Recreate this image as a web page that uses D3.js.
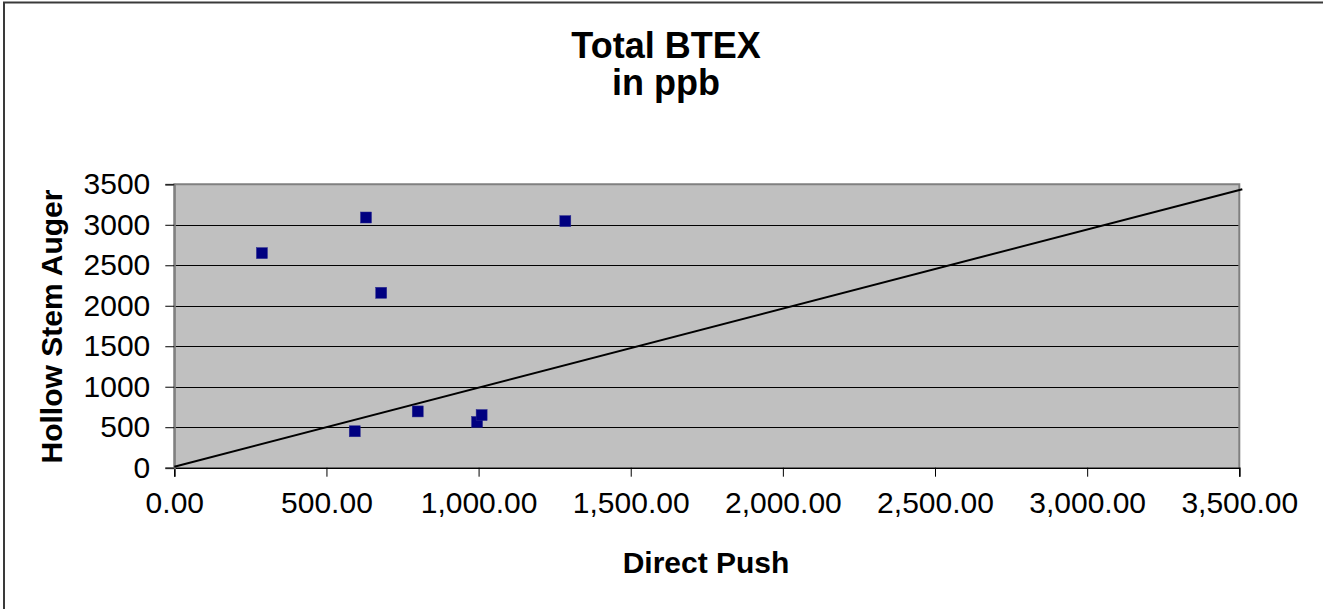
<!DOCTYPE html>
<html>
<head>
<meta charset="utf-8">
<script src="https://cdn.jsdelivr.net/npm/d3@7"></script>
<style>
  body { margin: 0; background: #fff; }
  svg { display: block; font-family: 'Liberation Sans', Arial, sans-serif; }
</style>
</head>
<body>
<div class="chart"></div>
<script>
var directPush = [288, 630, 1285, 680, 593, 800, 995, 1010];
var hollowStem = [2650, 3090, 3045, 2160, 450, 695, 565, 650];
var refLineX = [0, 3510];
var refLineY = [12, 3440];
var xTicks = [0, 500, 1000, 1500, 2000, 2500, 3000, 3500];
var yTicks = [0, 500, 1000, 1500, 2000, 2500, 3000, 3500];
var titleLines = ['Total BTEX', 'in ppb'];

var W = 1323;
var H = 609;
var plot = { left: 174.3, right: 1239.3, top: 184.3, bottom: 467.7 };

var svg = d3.select('.chart').append('svg').attr('width', W).attr('height', H);

// outer frame (only left / top edges visible in the picture)
svg.append('rect')
  .attr('x', 4).attr('y', 2.5)
  .attr('width', W + 20).attr('height', H + 20)
  .attr('fill', '#fff')
  .attr('stroke', '#3a3a3a')
  .attr('stroke-width', 2);

var xScale = d3.scaleLinear().domain([0, 3500]).range([plot.left, plot.right]);
var yScale = d3.scaleLinear().domain([0, 3500]).range([plot.bottom, plot.top]);

/* ===== PLOT AREA ===== */
svg.append('rect')
  .attr('x', plot.left).attr('y', plot.top)
  .attr('width', plot.right - plot.left)
  .attr('height', plot.bottom - plot.top)
  .attr('fill', '#c0c0c0');

svg.append('g')
  .selectAll('line')
  .data(yTicks.filter(function (d) { return d > 0 && d < 3500; }))
  .enter()
  .append('line')
  .attr('x1', plot.left).attr('x2', plot.right)
  .attr('y1', function (d) { return Math.round(yScale(d)) + 0.5; })
  .attr('y2', function (d) { return Math.round(yScale(d)) + 0.5; })
  .attr('stroke', '#000')
  .attr('stroke-width', 1);

// gray border of the plot area
svg.append('path')
  .attr('d', 'M' + plot.left + ',' + plot.bottom + 'V' + plot.top + 'H' + plot.right + 'V' + plot.bottom)
  .attr('fill', 'none')
  .attr('stroke', '#808080')
  .attr('stroke-width', 2);

/* ===== AXES ===== */
var xAxis = d3.axisBottom(xScale)
  .tickValues(xTicks)
  .tickSize(9)
  .tickPadding(15)
  .tickFormat(d3.format(',.2f'));

var yAxis = d3.axisLeft(yScale)
  .tickValues(yTicks)
  .tickSize(9)
  .tickPadding(15)
  .tickFormat(d3.format('d'));

var gx = svg.append('g')
  .attr('transform', 'translate(0,' + plot.bottom + ')')
  .call(xAxis);

var gy = svg.append('g')
  .attr('transform', 'translate(' + plot.left + ',0)')
  .call(yAxis);

gx.select('.domain').attr('stroke', '#000').attr('stroke-width', 1.5);
gy.select('.domain').attr('stroke', '#808080').attr('stroke-width', 2);
gx.selectAll('.tick line').attr('stroke', '#000');
gy.selectAll('.tick line').attr('stroke', '#000');

gx.selectAll('text')
  .attr('font-size', 30)
  .attr('font-family', 'Liberation Sans, Arial, sans-serif')
  .attr('fill', '#000');
gy.selectAll('text')
  .attr('font-size', 30)
  .attr('font-family', 'Liberation Sans, Arial, sans-serif')
  .attr('fill', '#000');

/* ===== REFERENCE LINE ===== */
var line = d3.line()
  .x(function (d) { return xScale(d[0]); })
  .y(function (d) { return yScale(d[1]); });

svg.append('path')
  .datum(refLineX.map(function (d, i) { return [d, refLineY[i]]; }))
  .attr('d', line)
  .attr('fill', 'none')
  .attr('stroke', '#000')
  .attr('stroke-width', 2);

/* ===== POINTS ===== */
var size = 11;
svg.append('g')
  .selectAll('rect')
  .data(directPush)
  .enter()
  .append('rect')
  .attr('x', function (d) { return xScale(d) - size / 2; })
  .attr('y', function (d, i) { return yScale(hollowStem[i]) - size / 2; })
  .attr('width', size)
  .attr('height', size)
  .attr('fill', '#000080')
  .attr('stroke', '#2a2a90')
  .attr('stroke-width', 0.5);

/* ===== TITLES ===== */
svg.append('g')
  .selectAll('text')
  .data(titleLines)
  .enter()
  .append('text')
  .attr('x', 666)
  .attr('y', function (d, i) { return 57.5 + i * 37; })
  .attr('text-anchor', 'middle')
  .attr('font-size', 36)
  .attr('font-weight', 'bold')
  .text(function (d) { return d; });

svg.append('text')
  .attr('x', 706)
  .attr('y', 573)
  .attr('text-anchor', 'middle')
  .attr('font-size', 30)
  .attr('font-weight', 'bold')
  .text('Direct Push');

svg.append('text')
  .attr('transform', 'translate(61.5,326.5) rotate(-90)')
  .attr('text-anchor', 'middle')
  .attr('font-size', 30)
  .attr('font-weight', 'bold')
  .text('Hollow Stem Auger');
</script>
</body>
</html>
